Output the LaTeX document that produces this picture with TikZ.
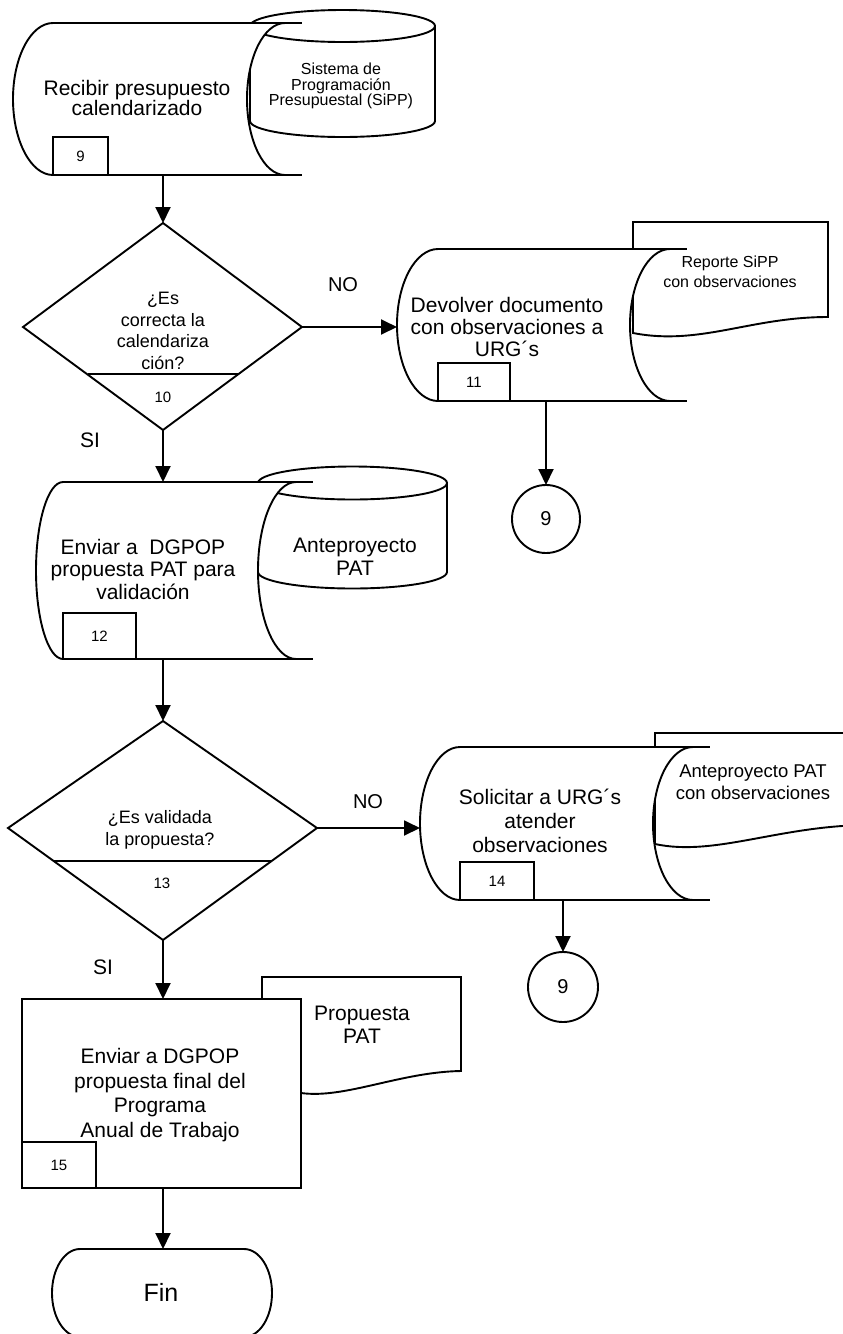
\documentclass[tikz,border=0pt]{standalone}
\usepackage{fontspec}
\setmainfont{Liberation Sans}
\usetikzlibrary{arrows.meta}
\begin{document}
\begin{tikzpicture}[x=1pt,y=-1pt,
  line width=1.9pt,
  every node/.style={inner sep=0pt, outer sep=0pt},
  shp/.style={draw=black, fill=white},
  flow/.style={-{Triangle[length=16pt,width=15pt]}},
  big/.style={font=\fontsize{21}{23}\selectfont, align=center},
  mid/.style={font=\fontsize{18}{21.7}\selectfont, align=center},
  small/.style={font=\fontsize{16}{15.5}\selectfont, align=center},
  numbox/.style={draw, fill=white, font=\fontsize{15}{18}\selectfont},
  conn/.style={draw, circle, minimum size=68pt, font=\fontsize{20}{24}\selectfont}]
\useasboundingbox (0,0) rectangle (843,1334);

% ---------- step 9: stored data with SiPP database ----------
\draw[shp] (250,26) -- (250,121) arc[start angle=180,end angle=360,x radius=92.5pt,y radius=16pt] -- (435,26) -- cycle;
\draw[shp] (342.5,26) ellipse[x radius=92.5pt,y radius=16pt];
\draw[shp] (53,23) arc[start angle=90,end angle=270,x radius=40pt,y radius=76pt]
  -- (285,175) arc[start angle=270,end angle=90,x radius=38pt,y radius=76pt] -- cycle;
\draw (285,23) -- (302,23) (285,175) -- (302,175);
\node[small] (sipp) at (341,86) {Sistema de\\Programación\\Presupuestal (SiPP)};
\node[big, font=\fontsize{21}{17.5}\selectfont] (t9) at (137,98) {Recibir presupuesto\\calendarizado};
\node[numbox, minimum width=55pt, minimum height=38pt] (n9) at (80.5,156) {9};
\coordinate (s1b) at (163,175);

% ---------- decision 10 ----------
\draw[shp] (163,223) -- (302,327) -- (163,430) -- (23,327) -- cycle;
\draw (88,374) -- (238,374);
\node[mid] (q10) at (163,331) {¿Es\\correcta la\\calendariza\\ción?};
\node[font=\fontsize{15}{18}\selectfont] (n10) at (163,397) {10};
\coordinate (d1t) at (163,223);
\coordinate (d1r) at (302,327);
\coordinate (d1b) at (163,430);

% ---------- step 11: return document with report ----------
\draw[shp] (633,249) -- (633,222) -- (828,222) -- (828,317)
  .. controls (750,317) and (700,346) .. (633,333) -- cycle;
\draw[shp] (438,249) arc[start angle=90,end angle=270,x radius=41pt,y radius=76pt]
  -- (670,401) arc[start angle=270,end angle=90,x radius=40pt,y radius=76pt] -- cycle;
\draw (670,249) -- (687,249) (670,401) -- (687,401);
\node[small, font=\fontsize{16}{20}\selectfont] (rep) at (730,272) {Reporte SiPP\\con observaciones};
\node[big, font=\fontsize{21}{22}\selectfont] (t11) at (507,327) {Devolver documento\\con observaciones a\\URG´s};
\node[numbox, minimum width=72pt, minimum height=38pt] (n11) at (474,382) {11};
\coordinate (s11l) at (397,327);
\coordinate (s11b) at (546,401);
\node[conn] (c1) at (546,519) {9};

% ---------- step 12: send PAT proposal ----------
\draw[shp] (258,483) -- (258,572) arc[start angle=180,end angle=360,x radius=94.5pt,y radius=16.5pt] -- (447,483) -- cycle;
\draw[shp] (352.5,483) ellipse[x radius=94.5pt,y radius=16.5pt];
\draw[shp] (63,482) arc[start angle=90,end angle=270,x radius=27pt,y radius=88.5pt]
  -- (296,659) arc[start angle=270,end angle=90,x radius=38pt,y radius=88.5pt] -- cycle;
\draw (296,482) -- (313,482) (296,659) -- (313,659);
\node[big] (ante) at (355,557) {Anteproyecto\\PAT};
\node[big, font=\fontsize{21}{22.5}\selectfont] (t12) at (143,569) {Enviar a~ DGPOP\\propuesta PAT para\\validación};
\node[numbox, minimum width=73pt, minimum height=46pt] (n12) at (99.5,636) {12};
\coordinate (s12t) at (163,482);
\coordinate (s12b) at (163,659);

% ---------- decision 13 ----------
\draw[shp] (163,721) -- (317,828) -- (163,940) -- (8,828) -- cycle;
\draw (54,861) -- (271,861);
\node[mid] (q13) at (160,830) {¿Es validada\\la propuesta?};
\node[font=\fontsize{15}{18}\selectfont] (n13) at (162,883) {13};
\coordinate (d2t) at (163,721);
\coordinate (d2r) at (317,828);
\coordinate (d2b) at (163,940);

% ---------- step 14: request attention to observations ----------
\draw[shp] (655,747) -- (655,733) -- (870,733) -- (870,825)
  .. controls (780,825) and (715,857) .. (655,844) -- cycle;
\draw[shp] (460,747) arc[start angle=90,end angle=270,x radius=40pt,y radius=76.5pt]
  -- (693,900) arc[start angle=270,end angle=90,x radius=40pt,y radius=76.5pt] -- cycle;
\draw (693,747) -- (710,747) (693,900) -- (710,900);
\node[big, font=\fontsize{18.5}{21.7}\selectfont] (obs) at (753,782) {Anteproyecto PAT\\con observaciones};
\node[big, font=\fontsize{21}{24}\selectfont] (t14) at (540,821) {Solicitar a URG´s\\atender\\observaciones};
\node[numbox, minimum width=74pt, minimum height=38pt] (n14) at (497,881) {14};
\coordinate (s14l) at (420,828);
\coordinate (s14b) at (563,900);
\node[conn, minimum size=70pt] (c2) at (563,987) {9};

% ---------- step 15: send final proposal ----------
\draw[shp] (262,1093) -- (262,977) -- (461,977) -- (461,1071)
  .. controls (400,1072) and (345,1099) .. (301,1093) -- cycle;
\node[shp, minimum width=279pt, minimum height=189pt] (r15) at (161.5,1093.5) {};
\node[big] (prop) at (362,1025) {Propuesta\\PAT};
\node[big, font=\fontsize{21}{24.5}\selectfont] (t15) at (160,1095) {Enviar a DGPOP\\propuesta final del\\Programa\\Anual de Trabajo};
\node[numbox, minimum width=74pt, minimum height=46pt] (n15) at (59,1165) {15};

% ---------- end terminal ----------
\draw[shp] (80,1249) -- (244,1249) arc[start angle=90,end angle=-90,x radius=28pt,y radius=44pt]
  -- (80,1337) arc[start angle=270,end angle=90,x radius=28pt,y radius=44pt] -- cycle;
\node[font=\fontsize{25}{30}\selectfont] (fin) at (161,1292) {Fin};
\coordinate (fint) at (163,1249);

% ---------- connectors ----------
\draw[flow] (s1b) -- (d1t);
\draw[flow] (d1r) -- (s11l);
\draw[flow] (d1b) -- (s12t);
\draw[flow] (s11b) -- (c1.north);
\draw[flow] (s12b) -- (d2t);
\draw[flow] (d2r) -- (s14l);
\draw[flow] (s14b) -- (c2.north);
\draw[flow] (d2b) -- (r15.north -| d2b);
\draw[flow] (r15.south -| d2b) -- (fint);

% ---------- branch labels ----------
\node[font=\fontsize{20}{24}\selectfont] (no1) at (343,285) {NO};
\node[font=\fontsize{20}{24}\selectfont] (no2) at (368,802) {NO};
\node[font=\fontsize{21}{24}\selectfont] (si1) at (90,440) {SI};
\node[font=\fontsize{21}{24}\selectfont] (si2) at (103,967) {SI};
\end{tikzpicture}
\end{document}
